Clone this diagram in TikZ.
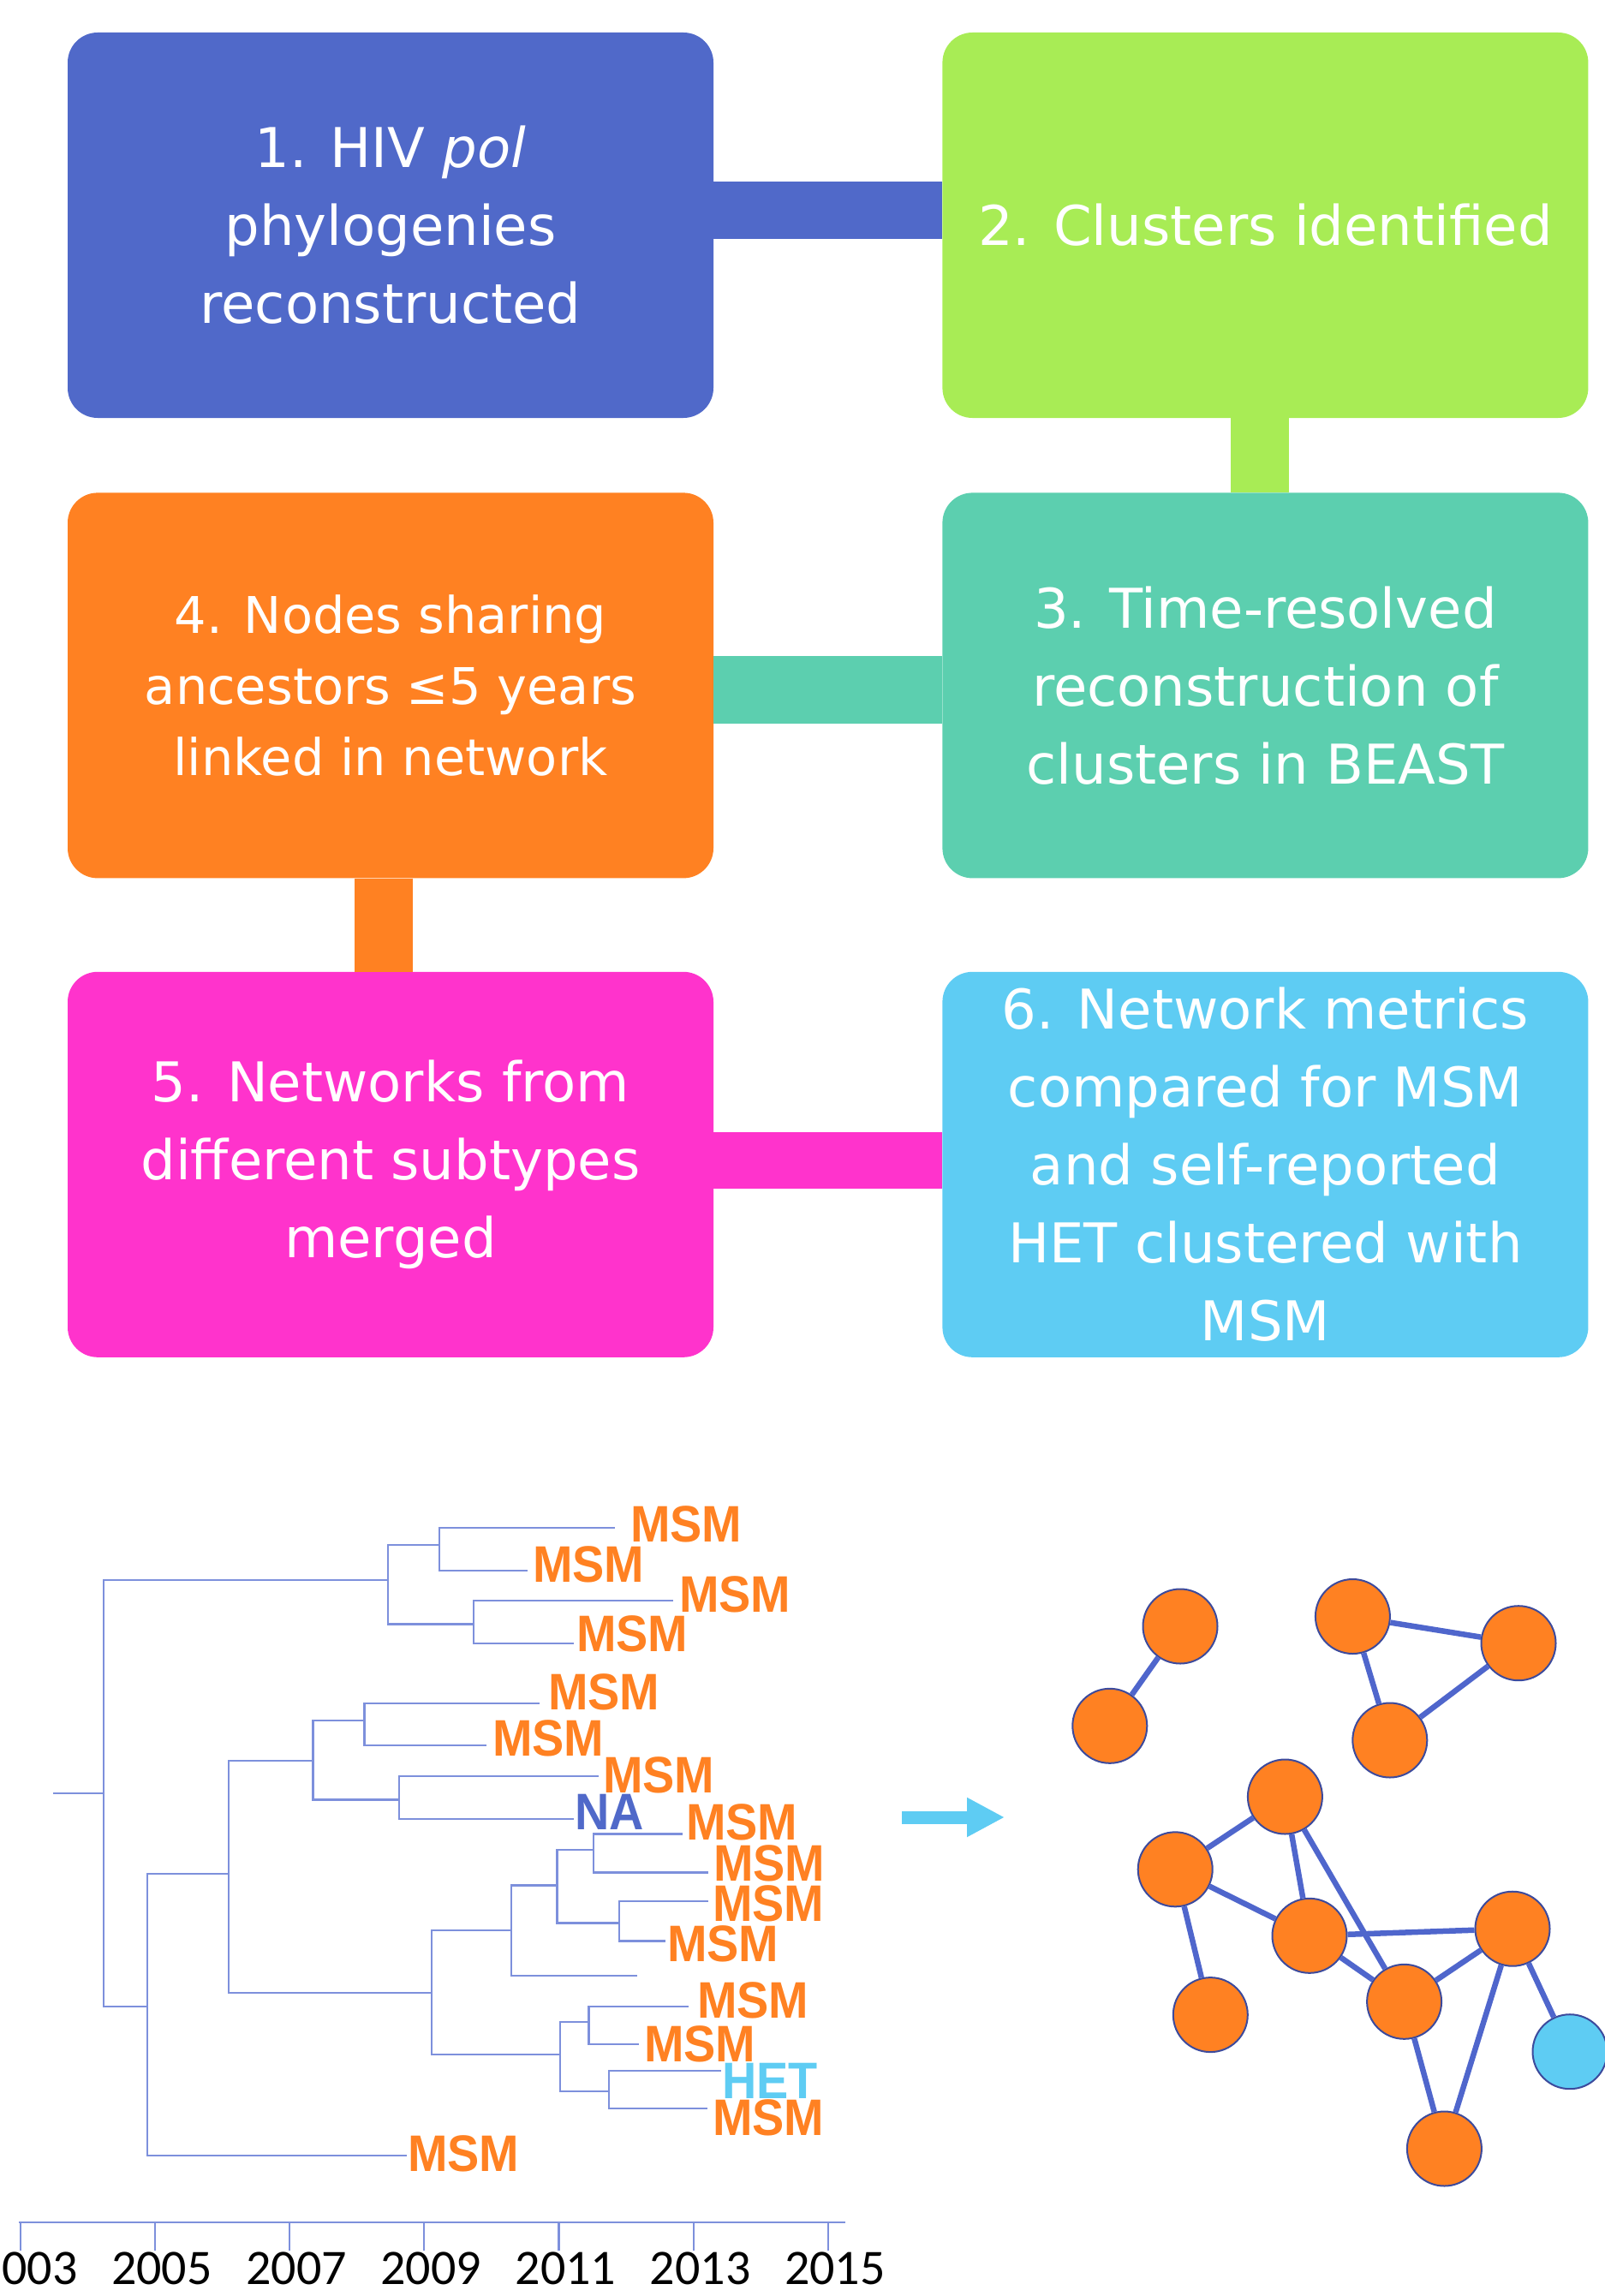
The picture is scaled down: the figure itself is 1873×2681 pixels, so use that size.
\documentclass[tikz,border=0pt]{standalone}
\usepackage{fontspec}
\setmainfont{DejaVu Sans}
\newfontfamily\tipfont[FakeStretch=0.93]{Liberation Sans Bold}
\newfontfamily\yearfont{Carlito}
\usepackage{tikz}
\usetikzlibrary{positioning, arrows.meta}
\definecolor{stepblue}{HTML}{5069C9}
\definecolor{stepgreen}{HTML}{A8EC55}
\definecolor{stepteal}{HTML}{5CCFAF}
\definecolor{steporange}{HTML}{FF8122}
\definecolor{steppink}{HTML}{FF33CC}
\definecolor{stepsky}{HTML}{5ECCF3}
\definecolor{treeline}{HTML}{7D90DC}
\definecolor{netedge}{HTML}{3C4A9C}
\definecolor{netlink}{HTML}{4F66CC}

\tikzset{
  stepbox/.style={rectangle, rounded corners=35pt, minimum width=754pt, minimum height=450pt,
    inner sep=0pt, align=center, text=white, font=\fontsize{64}{91}\selectfont},
  bar/.style={line width=#1},
  branch/.style={draw=treeline, line width=2.2pt},
  tip/.style={anchor=west, inner sep=0pt, text=steporange, font=\tipfont\fontsize{60}{60}\selectfont},
  year/.style={anchor=base, inner sep=0pt, font=\yearfont\fontsize{58}{58}\selectfont},
  netnode/.style={circle, minimum size=87pt, inner sep=0pt, fill=steporange, draw=netedge, line width=2pt},
  edge/.style={draw=netlink, line width=6.5pt}
}

\begin{document}
\begin{tikzpicture}[x=1pt, y=-1pt, node distance=87pt and 267pt]
\useasboundingbox (0,0) rectangle (1873,2681);

% workflow boxes
\node[stepbox, fill=stepblue] (b1) at (456,263) {1. HIV \textit{pol}\\phylogenies\\reconstructed};
\node[stepbox, fill=stepgreen, right=of b1] (b2) {2. Clusters identified};
\node[stepbox, fill=steporange, below=of b1, font=\fontsize{59}{83}\selectfont] (b4) {4. Nodes sharing\\ancestors ≤5 years\\linked in network};
\node[stepbox, fill=stepteal, right=of b4] (b3) {3. Time-resolved\\reconstruction of\\clusters in BEAST};
\node[stepbox, fill=steppink, below=109pt of b4] (b5) {5. Networks from\\different subtypes\\merged};
\node[stepbox, fill=stepsky, right=of b5] (b6) {6. Network metrics\\compared for MSM\\and self-reported\\HET clustered with\\MSM};

\draw[bar=67pt, stepblue] ([yshift=17pt]b1.east) -- ([yshift=17pt]b2.west);
\draw[bar=68pt, stepgreen] ([xshift=-6pt]b2.south) -- ([xshift=-6pt]b3.north);
\draw[bar=79pt, stepteal] ([yshift=-5pt]b3.west) -- ([yshift=-5pt]b4.east);
\draw[bar=68pt, steporange] ([xshift=-8pt]b4.south) -- ([xshift=-8pt]b5.north);
\draw[bar=66pt, steppink] ([yshift=5pt]b5.east) -- ([yshift=5pt]b6.west);

% time-resolved tree
\draw[branch] (62,2093.6) -- (121,2093.6);
\draw[branch] (452.8,1845) -| (121,2342.7) -- (172.2,2342.7);
\draw[branch] (512.8,1804.3) -| (452.8,1896.4) -- (553,1896.4);
\draw[branch] (717.5,1784.3) -| (512.8,1833.9) -- (616,1833.9);
\draw[branch] (785.7,1869.3) -| (553,1919.3) -- (669.6,1919.3);
\draw[branch] (266.6,2187.7) -| (172.2,2517.3) -- (475,2517.3);
\draw[branch] (365.4,2056) -| (266.6,2326.7) -- (503.8,2326.7);
\draw[branch] (425.4,2008.6) -| (365.4,2101.4) -- (465.6,2101.4);
\draw[branch] (630,1988.6) -| (425.4,2037.9) -- (567.6,2037.9);
\draw[branch] (699,2074) -| (465.6,2124) -- (669.6,2124);
\draw[branch] (597,2254.3) -| (503.8,2399.3) -- (653.7,2399.3);
\draw[branch] (650.5,2201.4) -| (597,2306.7) -- (744.3,2306.7);
\draw[branch] (693.2,2159.6) -| (650.5,2245.4) -- (722.6,2245.4);
\draw[branch] (797.2,2141.4) -| (693.2,2186.4) -- (826.5,2186.4);
\draw[branch] (826.5,2220) -| (722.6,2266.4) -- (776.8,2266.4);
\draw[branch] (687.5,2360.7) -| (653.7,2442.3) -- (711,2442.3);
\draw[branch] (803.6,2343.3) -| (687.5,2387.3) -- (746.2,2387.3);
\draw[branch] (841.8,2418.3) -| (711,2462.3) -- (826,2462.3);

\node[tip] (t1) at (736,1780) {MSM};
\node[tip] (t2) at (622,1826.8) {MSM};
\node[tip] (t3) at (793,1861.5) {MSM};
\node[tip] (t4) at (673,1908) {MSM};
\node[tip] (t5) at (640,1976) {MSM};
\node[tip] (t6) at (575,2030) {MSM};
\node[tip] (t7) at (704,2072.5) {MSM};
\node[tip, text=stepblue] (t8) at (671,2116) {NA};
\node[tip] (t9) at (801,2128) {MSM};
\node[tip] (t10) at (833,2175.4) {MSM};
\node[tip] (t11) at (832,2223) {MSM};
\node[tip] (t12) at (779,2270) {MSM};
\node[tip] (t13) at (814,2336) {MSM};
\node[tip] (t14) at (752,2387) {MSM};
\node[tip, text=stepsky] (t15) at (843,2429.5) {HET};
\node[tip] (t16) at (832,2472.5) {MSM};
\node[tip] (t17) at (476,2515) {MSM};

% time axis
\draw[branch] (22,2595) -- (987,2595);
\draw[branch] (23.6,2595) -- (23.6,2628);
\draw[branch] (180.8,2595) -- (180.8,2628);
\draw[branch] (338,2595) -- (338,2628);
\draw[branch] (495.2,2595) -- (495.2,2628);
\draw[branch] (652.4,2595) -- (652.4,2628);
\draw[branch] (809.6,2595) -- (809.6,2628);
\draw[branch] (966.8,2595) -- (966.8,2628);
\node[year] (y03) at (31.6,2667) {2003};
\node[year] (y05) at (188.8,2667) {2005};
\node[year] (y07) at (346,2667) {2007};
\node[year] (y09) at (503.2,2667) {2009};
\node[year] (y11) at (660.4,2667) {2011};
\node[year] (y13) at (817.6,2667) {2013};
\node[year] (y15) at (974.8,2667) {2015};

% arrow to network
\coordinate (arrtail) at (1053,2122);
\coordinate (arrhead) at (1173,2122);
\draw[bar=15pt, stepsky, -{Triangle[length=44pt, width=43pt]}] (arrtail) -- (arrhead);

% transmission network
\node[netnode] (n1) at (1378,1899) {};
\node[netnode] (n2) at (1295.8,2015.3) {};
\node[netnode] (n3) at (1579.4,1887.5) {};
\node[netnode] (n4) at (1773,1918.7) {};
\node[netnode] (n5) at (1622.8,2032) {};
\node[netnode] (n6) at (1500.4,2098) {};
\node[netnode] (n7) at (1372.2,2182.8) {};
\node[netnode] (n8) at (1529,2260.3) {};
\node[netnode] (n9) at (1766,2252.2) {};
\node[netnode] (n10) at (1413.3,2352.6) {};
\node[netnode] (n11) at (1639.6,2337.3) {};
\node[netnode, fill=stepsky] (n12) at (1833,2395.7) {};
\node[netnode] (n13) at (1686.4,2509) {};

\draw[edge] (n1) -- (n2);
\draw[edge] (n3) -- (n4);
\draw[edge] (n3) -- (n5);
\draw[edge] (n4) -- (n5);
\draw[edge] (n6) -- (n7);
\draw[edge] (n6) -- (n8);
\draw[edge] (n6) -- (n11);
\draw[edge] (n7) -- (n8);
\draw[edge] (n7) -- (n10);
\draw[edge] (n8) -- (n9);
\draw[edge] (n8) -- (n11);
\draw[edge] (n9) -- (n11);
\draw[edge] (n9) -- (n12);
\draw[edge] (n9) -- (n13);
\draw[edge] (n11) -- (n13);
\end{tikzpicture}
\end{document}
